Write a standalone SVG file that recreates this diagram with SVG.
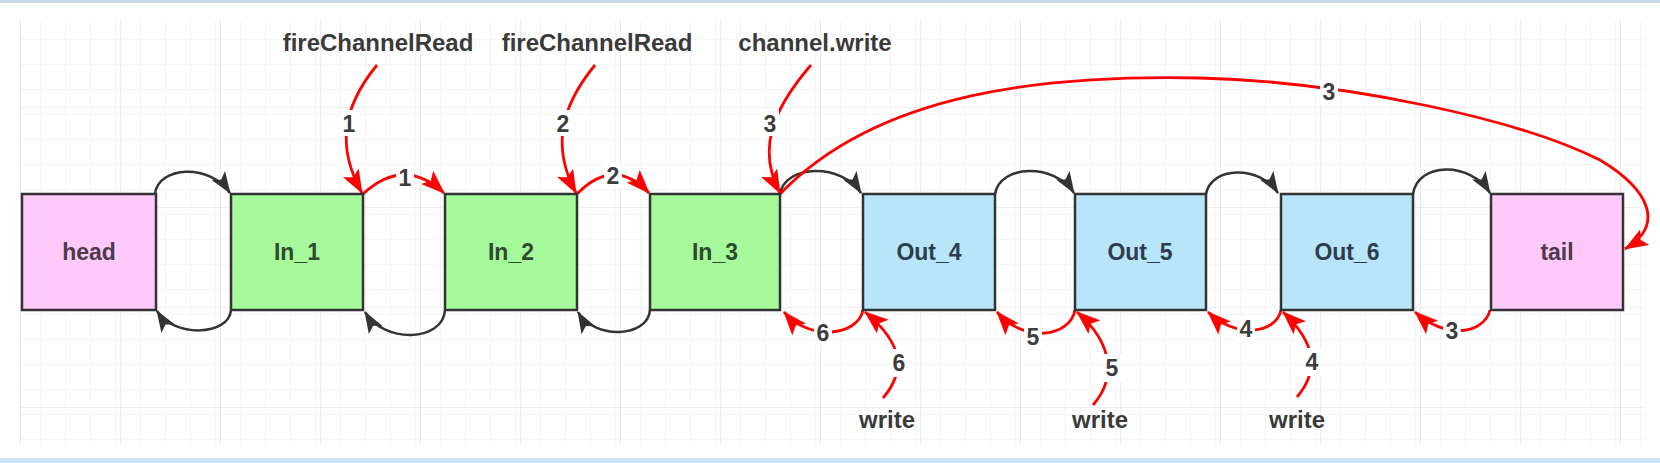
<svg xmlns="http://www.w3.org/2000/svg" width="1660" height="463" viewBox="0 0 1660 463">
<defs>
<pattern id="minor" patternUnits="userSpaceOnUse" x="20" y="7" width="25" height="25">
<path d="M0,0 H25 M0,0 V25" fill="none" stroke="#ebebeb" stroke-width="1"/>
</pattern>
<pattern id="major" patternUnits="userSpaceOnUse" x="20" y="7" width="100" height="100">
<rect width="100" height="100" fill="url(#minor)"/>
<path d="M0,0 H100 M0,0 V100" fill="none" stroke="#dedede" stroke-width="1.2"/>
</pattern>
<marker id="ab" viewBox="0 0 22 16" refX="21" refY="8" markerWidth="22" markerHeight="16" markerUnits="userSpaceOnUse" orient="auto">
<path d="M0,0 L22,8 L0,16 L5,8 z" fill="#333"/>
</marker>
<marker id="ar" viewBox="0 0 24 18" refX="23" refY="9" markerWidth="24" markerHeight="18" markerUnits="userSpaceOnUse" orient="auto">
<path d="M0,0 L24,9 L0,18 L5,9 z" fill="#ff0000"/>
</marker>
</defs>
<style>
.box{stroke:#333;stroke-width:2.5}
.pink{fill:#ffc9f9}
.green{fill:#a7fa9c}
.blue{fill:#b8e5f9}
.bl{font-family:"Liberation Sans",Arial,sans-serif;font-weight:bold;font-size:23px;text-anchor:middle}
.ext{font-family:"Liberation Sans",Arial,sans-serif;font-weight:bold;font-size:24px;fill:#3a3a3a;text-anchor:middle}
.num{font-family:"Liberation Sans",Arial,sans-serif;font-weight:bold;font-size:23px;fill:#3d3d3d;text-anchor:middle}
.blk{fill:none;stroke:#333;stroke-width:2.5;marker-end:url(#ab)}
.red{fill:none;stroke:#ff0000;stroke-width:2.8;marker-end:url(#ar)}
.lbg{fill:#ffffff}
</style>
<rect x="0" y="0" width="1660" height="463" fill="#ffffff"/>
<rect x="20" y="20" width="1625" height="425" fill="url(#major)"/>
<rect x="0" y="0" width="1660" height="3" fill="#c9d9ea"/>
<rect x="0" y="458" width="1660" height="5" fill="#cfe3f4"/>

<g id="connectors">
<path class="blk" d="M155,194 C158,166 210,163 230,193"/>
<path class="blk" d="M231,310 C229,336 174,338 157,311"/>
<path class="blk" d="M445,310 C443,342 384,344 365,312"/>
<path class="blk" d="M650,310 C648,338 594,340 578,312"/>
<path class="blk" d="M780,194 C785,164 842,163 861,193"/>
<path class="blk" d="M995,194 C1000,164 1055,163 1074,193"/>
<path class="blk" d="M1206,194 C1211,166 1260,165 1278,193"/>
<path class="blk" d="M1413,194 C1418,162 1470,161 1490,193"/>

<path class="red" d="M377,65 C340,110 338,150 362,193"/>
<path class="red" d="M363,194 Q404,156 444,193"/>
<path class="red" d="M595,65 C558,110 553,150 576,193"/>
<path class="red" d="M577,194 Q614,156 649,193"/>
<path class="red" d="M811,65 C772,110 757,150 780,193"/>
<path class="red" d="M780,194 C880,90 1050,75 1200,78 C1350,82 1520,120 1600,160 C1650,190 1665,225 1625,249"/>

<path class="red" d="M863,310 C858,336 810,342 784,312"/>
<path class="red" d="M883,398 C905,372 905,345 865,312"/>
<path class="red" d="M1075,310 C1070,337 1025,344 997,312"/>
<path class="red" d="M1093,405 C1115,380 1115,345 1077,312"/>
<path class="red" d="M1281,310 C1276,334 1236,339 1208,312"/>
<path class="red" d="M1297,397 C1318,372 1318,345 1283,312"/>
<path class="red" d="M1490,310 C1484,334 1446,340 1415,312"/>
</g>

<g id="edge-labels">
<rect class="lbg" x="340" y="110" width="18" height="26"/><text class="num" x="349" y="132">1</text>
<rect class="lbg" x="396" y="166" width="18" height="24"/><text class="num" x="405" y="186">1</text>
<rect class="lbg" x="554" y="110" width="18" height="26"/><text class="num" x="563" y="132">2</text>
<rect class="lbg" x="604" y="164" width="18" height="24"/><text class="num" x="613" y="184">2</text>
<rect class="lbg" x="761" y="110" width="18" height="26"/><text class="num" x="770" y="132">3</text>
<rect class="lbg" x="1320" y="79" width="18" height="26"/><text class="num" x="1329" y="100">3</text>
<rect class="lbg" x="814" y="321" width="18" height="24"/><text class="num" x="823" y="341">6</text>
<rect class="lbg" x="890" y="349" width="18" height="28"/><text class="num" x="899" y="371">6</text>
<rect class="lbg" x="1024" y="325" width="18" height="24"/><text class="num" x="1033" y="345">5</text>
<rect class="lbg" x="1103" y="354" width="18" height="28"/><text class="num" x="1112" y="376">5</text>
<rect class="lbg" x="1237" y="317" width="18" height="24"/><text class="num" x="1246" y="337">4</text>
<rect class="lbg" x="1303" y="348" width="18" height="28"/><text class="num" x="1312" y="370">4</text>
<rect class="lbg" x="1443" y="319" width="18" height="24"/><text class="num" x="1452" y="339">3</text>
</g>

<g id="head"><rect class="box pink" x="22" y="194" width="134" height="116"/><text class="bl" x="89" y="260" fill="#4a3a4a">head</text></g>
<g id="In_1"><rect class="box green" x="231" y="194" width="132" height="116"/><text class="bl" x="297" y="260" fill="#2f4a2f">In_1</text></g>
<g id="In_2"><rect class="box green" x="445" y="194" width="132" height="116"/><text class="bl" x="511" y="260" fill="#2f4a2f">In_2</text></g>
<g id="In_3"><rect class="box green" x="650" y="194" width="130" height="116"/><text class="bl" x="715" y="260" fill="#2f4a2f">In_3</text></g>
<g id="Out_4"><rect class="box blue" x="863" y="194" width="132" height="116"/><text class="bl" x="929" y="260" fill="#2d3d4c">Out_4</text></g>
<g id="Out_5"><rect class="box blue" x="1075" y="194" width="131" height="116"/><text class="bl" x="1140" y="260" fill="#2d3d4c">Out_5</text></g>
<g id="Out_6"><rect class="box blue" x="1281" y="194" width="132" height="116"/><text class="bl" x="1347" y="260" fill="#2d3d4c">Out_6</text></g>
<g id="tail"><rect class="box pink" x="1491" y="194" width="132" height="116"/><text class="bl" x="1557" y="260" fill="#4a3a4a">tail</text></g>

<g id="labels">
<text class="ext" x="378" y="51">fireChannelRead</text>
<text class="ext" x="597" y="51">fireChannelRead</text>
<text class="ext" x="815" y="51">channel.write</text>
<text class="ext" x="887" y="428">write</text>
<text class="ext" x="1100" y="428">write</text>
<text class="ext" x="1297" y="428">write</text>
</g>
</svg>
